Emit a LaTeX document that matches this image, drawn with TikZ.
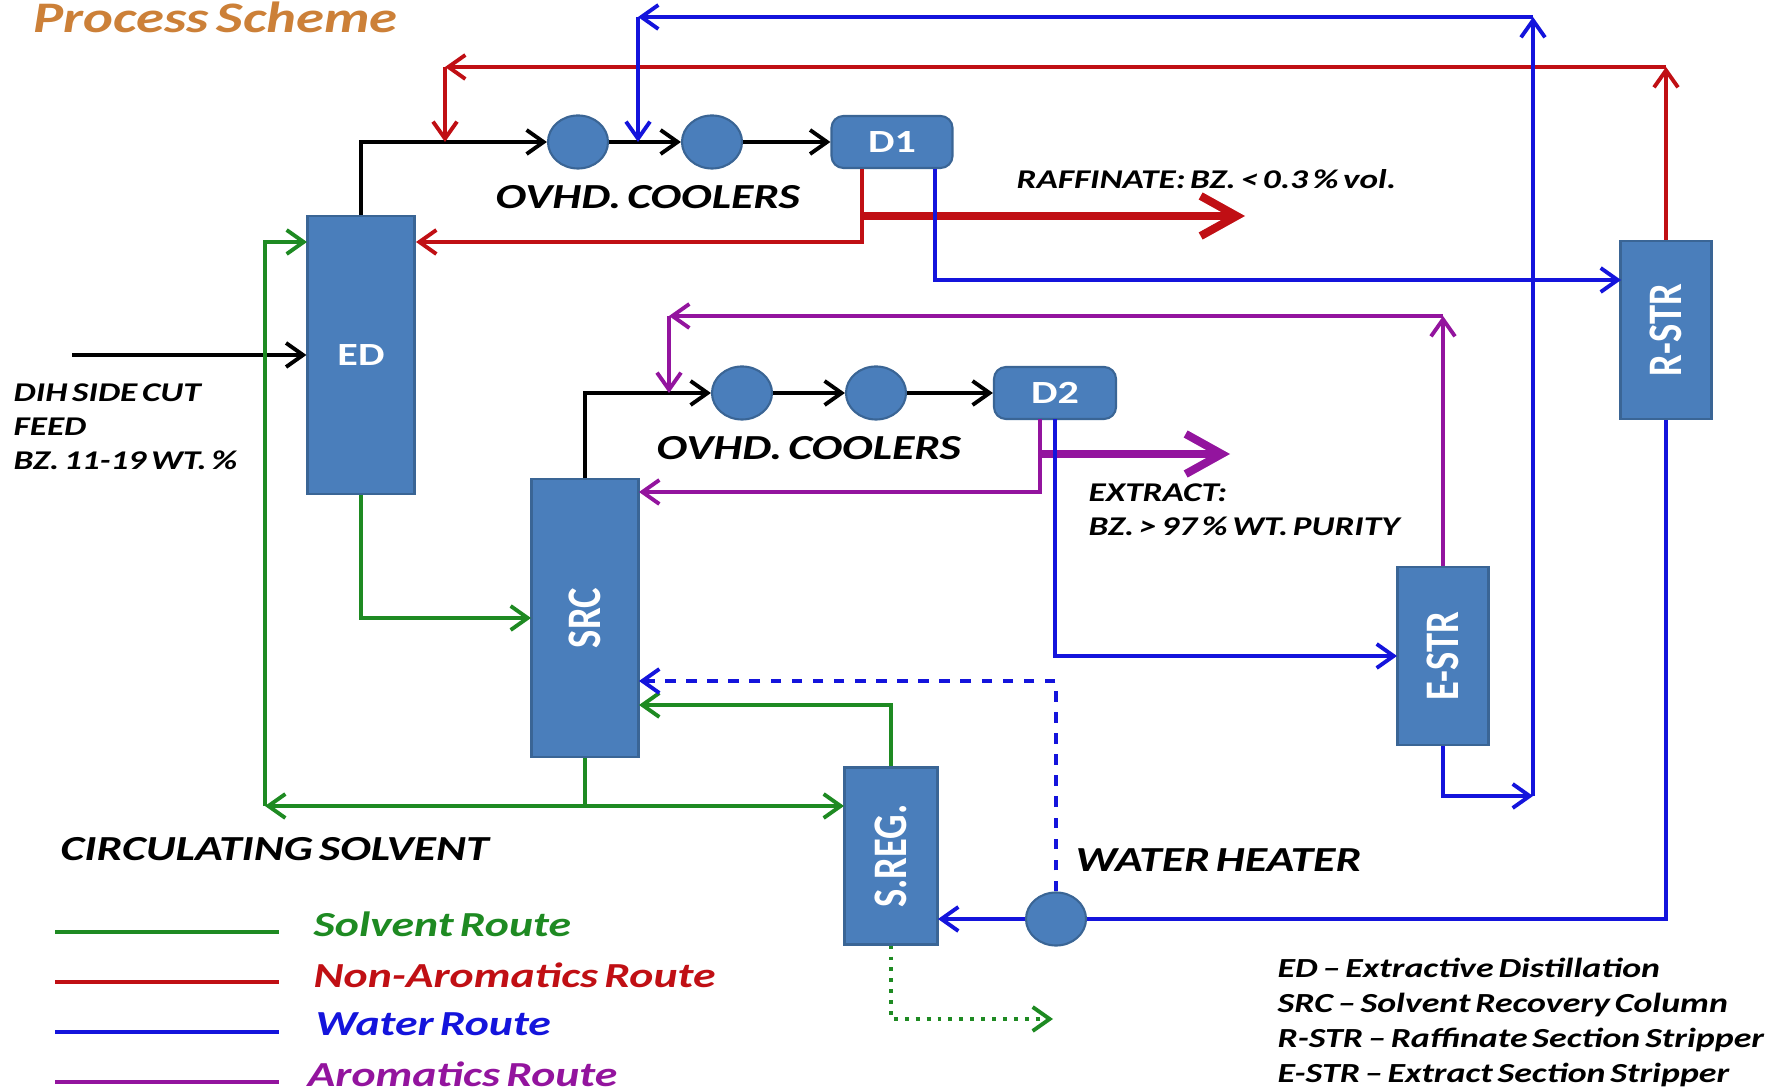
\documentclass[tikz,border=0pt]{standalone}
\usepackage{fontspec}
\usepackage{graphicx}
\setmainfont{Carlito}
\newfontfamily\widefont[FakeStretch=1.3,WordSpace=0.6]{Carlito}
\newfontfamily\tallfont[FakeStretch=0.8]{Carlito}
\usetikzlibrary{arrows.meta,shapes.geometric}
\definecolor{boxblu}{HTML}{4A7EBB}
\definecolor{boxedge}{HTML}{3A6595}
\definecolor{solvgreen}{HTML}{1E8A22}
\definecolor{raffred}{HTML}{C00F14}
\definecolor{watblue}{HTML}{1414DC}
\definecolor{aromviolet}{HTML}{93149E}
\definecolor{titleorange}{HTML}{CC8038}
\tikzset{
  flow/.style={line width=1.1pt,>={Straight Barb[length=1.7mm,width=2.4mm]}},
  wide/.style={line width=2.3pt,>={Straight Barb[length=3.6mm,width=4mm]}},
  column/.style={draw=boxedge,fill=boxblu,line width=0.6pt,inner sep=0pt,text=white,font=\widefont\fontsize{9.2}{11}\selectfont\bfseries},
  tower/.style={column,font=\tallfont\fontsize{13.7}{15}\selectfont\bfseries},
  drum/.style={column,rectangle,rounded corners=1.2mm},
  cooler/.style={draw=boxedge,fill=boxblu,line width=0.6pt,ellipse,inner sep=0pt,minimum width=6mm,minimum height=5.3mm},
  lab/.style={anchor=west,inner sep=0pt,align=left,font=\widefont\fontsize{10}{12}\selectfont\bfseries\itshape},
  smalllab/.style={anchor=west,inner sep=0pt,align=left,font=\widefont\fontsize{7.7}{9.7}\selectfont\bfseries\itshape},
  routelab/.style={anchor=west,inner sep=0pt,font=\widefont\fontsize{10}{12}\selectfont\bfseries\itshape}
}
\begin{document}
\begin{tikzpicture}[x=0.01cm,y=-0.01cm]
  \useasboundingbox (0,0) rectangle (1773,1089);
  \node[anchor=west,inner sep=0pt,text=titleorange,font=\widefont\fontsize{12.4}{15}\selectfont\bfseries\itshape] (title) at (33,17) {Process Scheme};
  \node[column,minimum width=10.7mm,minimum height=27.7mm] (ED) at (361,355) {ED};
  \node[tower,minimum width=10.7mm,minimum height=27.7mm] (SRC) at (585,618) {\rotatebox{90}{SRC}};
  \node[tower,minimum width=9.1mm,minimum height=17.8mm] (RSTR) at (1666,330) {\rotatebox{90}{R-STR}};
  \node[tower,minimum width=9.1mm,minimum height=17.8mm] (ESTR) at (1443,656) {\rotatebox{90}{E-STR}};
  \node[tower,minimum width=9.3mm,minimum height=17.7mm] (SREG) at (891,856) {\rotatebox{90}{S.REG.}};
  \node[drum,minimum width=12.1mm,minimum height=5.2mm] (D1) at (892,142) {D1};
  \node[drum,minimum width=12.2mm,minimum height=5.2mm] (D2) at (1055,393) {D2};
  \node[cooler] (C1) at (578,142) {};
  \node[cooler] (C2) at (712,142) {};
  \node[cooler] (C3) at (742,393) {};
  \node[cooler] (C4) at (876,393) {};
  \node[cooler] (WH) at (1056,919) {};
  \coordinate (feedin) at (72,355);
  \coordinate (edfeed) at (ED.west |- feedin);
  \coordinate (rtop) at (445,67);
  \coordinate (rin) at (445,142);
  \coordinate (btop) at (638,17);
  \coordinate (bin) at (638,142);
  \coordinate (ptop) at (669,316);
  \coordinate (pin) at (669,393);
  \coordinate (d1red) at (862,169);
  \coordinate (d1wide) at (862,216);
  \coordinate (edred) at (416,242);
  \coordinate (d1blue) at (935,169);
  \coordinate (rstrin) at (1621,280);
  \coordinate (wideredend) at (1245,216);
  \coordinate (d2pur) at (1040,419);
  \coordinate (d2wide) at (1040,454);
  \coordinate (srcpur) at (639,492);
  \coordinate (d2blue) at (1055,419);
  \coordinate (estrin) at (1397,656);
  \coordinate (widepurend) at (1230,454);
  \coordinate (rcorner) at (1666,67);
  \coordinate (pcorner) at (1443,316);
  \coordinate (bcorner) at (1533,17);
  \coordinate (bjoin) at (1533,796);
  \coordinate (wcorner) at (1666,919);
  \coordinate (sregout) at (938,919);
  \coordinate (srcdash) at (639,681);
  \coordinate (srcgreen) at (639,705);
  \coordinate (sl) at (265,806);
  \coordinate (edsolv) at (307,242);
  \coordinate (sr) at (844,806);
  \coordinate (srcjoin) at (585,806);
  \coordinate (srcin) at (531,618);
  \coordinate (dotend) at (1053,1019);
  \draw[flow,->] (feedin) -- (edfeed);
  \draw[flow,->] (ED.north) |- (C1);
  \draw[flow,->] (C1) -- (C2);
  \draw[flow,->] (C2) -- (D1);
  \draw[flow,->] (SRC.north) |- (C3);
  \draw[flow,->] (C3) -- (C4);
  \draw[flow,->] (C4) -- (D2);
  \draw[flow,color=solvgreen,->] (sl) |- (edsolv);
  \draw[flow,color=solvgreen,<->] (sl) -- (sr);
  \draw[flow,color=solvgreen] (SRC.south) -- (srcjoin);
  \draw[flow,color=solvgreen,->] (ED.south) |- (srcin);
  \draw[flow,color=solvgreen,->] (SREG.north) |- (srcgreen);
  \draw[flow,color=solvgreen,dotted,->] (SREG.south) |- (dotend);
  \draw[flow,color=raffred,->] (d1red) |- (edred);
  \draw[wide,color=raffred,->] (d1wide) -- (wideredend);
  \draw[flow,color=raffred,->] (RSTR.north -| rcorner) -- (rcorner);
  \draw[flow,color=raffred,->] (rcorner) -- (rtop);
  \draw[flow,color=raffred,->] (rtop) -- (rin);
  \draw[flow,color=aromviolet,->] (d2pur) |- (srcpur);
  \draw[wide,color=aromviolet,->] (d2wide) -- (widepurend);
  \draw[flow,color=aromviolet,->] (ESTR.north) -- (pcorner);
  \draw[flow,color=aromviolet,->] (pcorner) -- (ptop);
  \draw[flow,color=aromviolet,->] (ptop) -- (pin);
  \draw[flow,color=watblue,->] (d1blue) |- (rstrin);
  \draw[flow,color=watblue,->] (d2blue) |- (estrin);
  \draw[flow,color=watblue,->] (ESTR.south) |- (bjoin);
  \draw[flow,color=watblue,->] (bjoin) -- (bcorner);
  \draw[flow,color=watblue,->] (bcorner) -- (btop);
  \draw[flow,color=watblue,->] (btop) -- (bin);
  \draw[flow,color=watblue] (RSTR.south) -- (wcorner) -- (WH);
  \draw[flow,color=watblue,->] (WH) -- (sregout);
  \draw[flow,color=watblue,dashed,->] (WH.north) |- (srcdash);
  \node[smalllab] (feedlab) at (13,427) {DIH SIDE CUT\\FEED\\BZ. 11-19 WT. \%};
  \node[lab] (ov1) at (495,197) {OVHD. COOLERS};
  \node[lab] (ov2) at (656,448) {OVHD. COOLERS};
  \node[smalllab] (raflab) at (1016,179) {RAFFINATE: BZ. < 0.3 \% vol.};
  \node[smalllab] (extlab) at (1088,510) {EXTRACT:\\BZ. > 97 \% WT. PURITY};
  \node[lab] (wlab) at (1075,860) {WATER HEATER};
  \node[lab] (clab) at (60,849) {CIRCULATING SOLVENT};
  \node[smalllab,font=\widefont\fontsize{7.85}{9.95}\selectfont\bfseries\itshape] (abbr) at (1277,1022) {ED – Extractive Distillation\\SRC – Solvent Recovery Column\\R-STR – Raffinate Section Stripper\\E-STR – Extract Section Stripper};
  \coordinate (l1a) at (55,932);
  \coordinate (l1b) at (279,932);
  \coordinate (l2a) at (55,982);
  \coordinate (l2b) at (279,982);
  \coordinate (l3a) at (55,1032);
  \coordinate (l3b) at (279,1032);
  \coordinate (l4a) at (55,1082);
  \coordinate (l4b) at (279,1082);
  \draw[flow,color=solvgreen] (l1a) -- (l1b);
  \draw[flow,color=raffred] (l2a) -- (l2b);
  \draw[flow,color=watblue] (l3a) -- (l3b);
  \draw[flow,color=aromviolet] (l4a) -- (l4b);
  \node[routelab,text=solvgreen] (r1) at (313,924) {Solvent Route};
  \node[routelab,text=raffred] (r2) at (313,975) {Non-Aromatics Route};
  \node[routelab,text=watblue] (r3) at (315,1024) {Water Route};
  \node[routelab,text=aromviolet] (r4) at (307,1074) {Aromatics Route};
\end{tikzpicture}
\end{document}
